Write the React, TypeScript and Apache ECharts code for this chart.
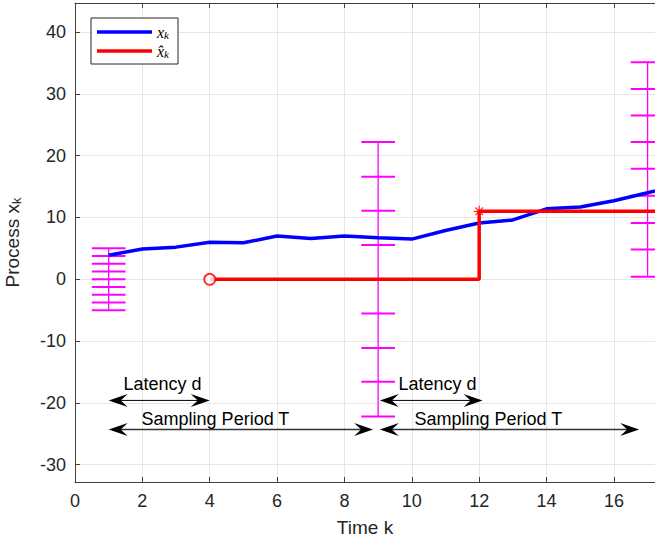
import React, { useEffect, useRef } from "react";
import * as echarts from "echarts";

// ---- data ----
const kSteps = [1, 2, 3, 4, 5, 6, 7, 8, 9, 10, 11, 12, 13, 14, 15, 16, 17, 18];
const processX = [3.9, 4.9, 5.2, 6.0, 5.9, 7.0, 6.6, 7.0, 6.7, 6.5, 7.9, 9.1, 9.6, 11.4, 11.7, 12.7, 14.0, 15.3];
const estimateSteps = [4, 12, 12, 18];
const estimateValues = [0, 0, 11, 11];
const circleMarker = [4, 0];
const starMarker = [12, 11];
const errorBarSteps = [1, 9, 17];
const errorBarLevels = [
  [5, 3.75, 2.5, 1.25, 0, -1.25, -2.5, -3.75, -5],
  [22.2, 16.6, 11.1, 5.55, 0, -5.55, -11.1, -16.6, -22.2],
  [35.1, 30.8, 26.5, 22.2, 17.9, 13.5, 9.1, 4.8, 0.4],
];
const arrowStarts = [1, 1, 9.05, 9.05];
const arrowEnds = [4, 8.85, 12.1, 16.75];
const arrowLevels = [-19.6, -24.3, -19.6, -24.3];
const annotationLabels = ["Latency d", "Sampling Period T", "Latency d", "Sampling Period T"];
const annotationX = [2.6, 4.17, 10.76, 12.27];
const annotationY = [-17.0, -22.65, -17.0, -22.65];
const xTicks = [0, 2, 4, 6, 8, 10, 12, 14, 16];
const yTicks = [-30, -20, -10, 0, 10, 20, 30, 40];

const FONT = "'Liberation Sans', Arial, Helvetica, sans-serif";
const MATH = "'Liberation Serif', 'DejaVu Serif', serif";
const MAGENTA = "#ff00ff";

export default function App() {
  const ref = useRef<HTMLDivElement>(null);
  useEffect(() => {
    if (!ref.current) return;
    const chart = echarts.init(ref.current, null, { renderer: "svg" });

    const arrowHead = (tx: number, ty: number, dir: number) => {
      const L = 19, W = 6.5, N = 12;
      return {
        type: "polygon",
        shape: {
          points: [
            [tx, ty],
            [tx - dir * L, ty - W],
            [tx - dir * N, ty],
            [tx - dir * L, ty + W],
          ],
        },
        style: { fill: "#000" },
      };
    };

    const mathRich = {
      i: { fontFamily: MATH, fontStyle: "italic", fontSize: 16, fill: "#000" },
      s: { fontFamily: MATH, fontStyle: "italic", fontSize: 11, fill: "#000", padding: [6, 0, 0, 0] },
    };

    const option: any = {
      animation: false,
      backgroundColor: "#fff",
      grid: { left: 75, right: 0, top: 3, bottom: 61, containLabel: false, outerBoundsMode: "none" },
      xAxis: [
        {
          type: "value",
          min: 0,
          max: 17.22,
          interval: 2,
          position: "bottom",
          name: "Time k",
          nameLocation: "middle",
          nameGap: 36,
          nameTextStyle: { fontFamily: FONT, fontSize: 19, color: "#262626" },
          axisLine: { show: true, onZero: false, lineStyle: { color: "#404040", width: 1 } },
          axisTick: { show: true, inside: true, length: 5, lineStyle: { color: "#404040" } },
          axisLabel: {
            fontFamily: FONT,
            fontSize: 18,
            color: "#262626",
            margin: 10,
            showMaxLabel: false,
            formatter: (v: number) => (xTicks.indexOf(Math.round(v * 1000) / 1000) >= 0 ? String(v) : ""),
          },
          splitLine: { show: true, lineStyle: { color: "#e6e6e6", width: 1 } },
        },
        {
          type: "value",
          min: 0,
          max: 17.22,
          interval: 2,
          position: "top",
          axisLine: { show: true, onZero: false, lineStyle: { color: "#404040", width: 1 } },
          axisTick: { show: true, inside: true, length: 5, lineStyle: { color: "#404040" } },
          axisLabel: { show: false },
          splitLine: { show: false },
        },
      ],
      yAxis: {
        type: "value",
        min: -32.8,
        max: 44.7,
        splitNumber: 8,
        name: "Process x{sub|k}",
        nameLocation: "middle",
        nameGap: 52,
        nameRotate: 90,
        nameTextStyle: {
          fontFamily: FONT,
          fontSize: 19,
          color: "#262626",
          rich: { sub: { fontFamily: FONT, fontSize: 13, color: "#262626", verticalAlign: "bottom", padding: [8, 0, 0, 0] } },
        },
        axisLine: { show: true, onZero: false, lineStyle: { color: "#404040", width: 1 } },
        axisTick: { show: true, inside: true, length: 5, lineStyle: { color: "#404040" } },
        axisLabel: {
          fontFamily: FONT,
          fontSize: 18,
          color: "#262626",
          margin: 9,
          showMinLabel: false,
          showMaxLabel: false,
          formatter: (v: number) => (yTicks.indexOf(Math.round(v * 1000) / 1000) >= 0 ? String(v) : ""),
        },
        splitLine: { show: true, lineStyle: { color: "#e6e6e6", width: 1 } },
      },
      series: [
        {
          type: "custom",
          name: "errorbars",
          clip: true,
          z: 1,
          data: errorBarSteps.map((k, i) => [k, errorBarLevels[i][4]]),
          renderItem: (params: any, api: any) => {
            const i = params.dataIndex;
            const k = errorBarSteps[i];
            const levels = errorBarLevels[i];
            const top = api.coord([k, Math.max(...levels)]);
            const bot = api.coord([k, Math.min(...levels)]);
            const children: any[] = [
              {
                type: "line",
                shape: { x1: top[0], y1: top[1], x2: bot[0], y2: bot[1] },
                style: { stroke: MAGENTA, lineWidth: 1.3 },
              },
            ];
            levels.forEach((v) => {
              const a = api.coord([k - 0.5, v]);
              const b = api.coord([k + 0.5, v]);
              children.push({
                type: "line",
                shape: { x1: a[0], y1: a[1], x2: b[0], y2: b[1] },
                style: { stroke: MAGENTA, lineWidth: 2 },
              });
            });
            return { type: "group", children };
          },
        },
        {
          type: "line",
          name: "x_k",
          z: 3,
          data: kSteps.map((k, i) => [k, processX[i]]),
          symbol: "none",
          lineStyle: { color: "#0000ff", width: 3.5 },
        },
        {
          type: "line",
          name: "xhat_k",
          z: 4,
          data: estimateSteps.map((k, i) => [k, estimateValues[i]]),
          symbol: "none",
          lineStyle: { color: "#ff0000", width: 3.5 },
        },
        {
          type: "scatter",
          z: 5,
          data: [circleMarker],
          symbol: "emptyCircle",
          symbolSize: 11,
          itemStyle: { color: "#ff0000", borderColor: "#ff0000", borderWidth: 1.3 },
        },
        {
          type: "scatter",
          z: 5,
          data: [starMarker],
          symbol: "path://M5 0 L5 10 M0 5 L10 5 M1.5 1.5 L8.5 8.5 M1.5 8.5 L8.5 1.5",
          symbolSize: 11,
          itemStyle: { color: "transparent", borderColor: "#ff0000", borderWidth: 1.3 },
        },
        {
          type: "custom",
          name: "arrows",
          z: 6,
          data: arrowStarts.map((s, i) => [s, arrowLevels[i]]),
          renderItem: (params: any, api: any) => {
            const i = params.dataIndex;
            const a = api.coord([arrowStarts[i], arrowLevels[i]]);
            const b = api.coord([arrowEnds[i], arrowLevels[i]]);
            return {
              type: "group",
              children: [
                {
                  type: "line",
                  shape: { x1: a[0] + 8, y1: a[1], x2: b[0] - 8, y2: b[1] },
                  style: { stroke: i % 2 === 1 ? "#333" : "#000", lineWidth: i % 2 === 1 ? 1.5 : 1 },
                },
                arrowHead(a[0], a[1], -1),
                arrowHead(b[0], b[1], 1),
              ],
            };
          },
        },
        {
          type: "custom",
          name: "annotations",
          z: 7,
          data: annotationX.map((x, i) => [x, annotationY[i]]),
          renderItem: (params: any, api: any) => {
            const i = params.dataIndex;
            const p = api.coord([annotationX[i], annotationY[i]]);
            return {
              type: "text",
              x: p[0],
              y: p[1],
              style: {
                text: annotationLabels[i],
                fontFamily: FONT,
                fontSize: 18,
                fill: "#000",
                align: "center",
                verticalAlign: "middle",
              },
            };
          },
        },
      ],
      graphic: [
        {
          type: "rect",
          x: 91,
          y: 18,
          z: 100,
          shape: { x: 0, y: 0, width: 87, height: 46 },
          style: { fill: "#fff", stroke: "#262626", lineWidth: 1 },
        },
        {
          type: "line",
          z: 101,
          shape: { x1: 97, y1: 32, x2: 152, y2: 32 },
          style: { stroke: "#0000ff", lineWidth: 3.5 },
        },
        {
          type: "line",
          z: 101,
          shape: { x1: 97, y1: 51, x2: 152, y2: 51 },
          style: { stroke: "#ff0000", lineWidth: 3.5 },
        },
        {
          type: "text",
          z: 101,
          x: 157,
          y: 32,
          style: { text: "{i|x}{s|k}", verticalAlign: "middle", rich: mathRich },
        },
        {
          type: "text",
          z: 101,
          x: 157,
          y: 51,
          style: { text: "{i|x\u0302}{s|k}", verticalAlign: "middle", rich: mathRich },
        },
      ],
    };
    chart.setOption(option);
    return () => chart.dispose();
  }, []);
  return (
    <div
      ref={ref}
      style={{ position: "absolute", left: 0, top: 0, width: 655, height: 543 }}
    />
  );
}
